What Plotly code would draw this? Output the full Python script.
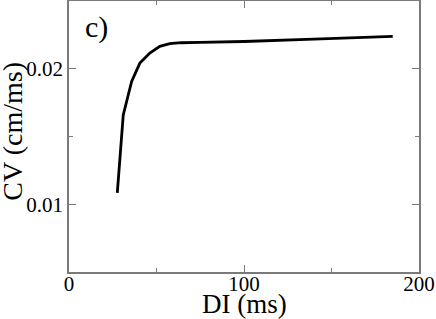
import plotly.graph_objects as go

di_ms = [27.6, 31.0, 35.8, 40.5, 46.2, 51.9, 57.6, 64.0, 74.7, 100.0, 140.0, 185.0]
cv_cm_per_ms = [0.01084, 0.01659, 0.01906, 0.02042, 0.02116, 0.02165, 0.02185, 0.02192, 0.02195, 0.02201, 0.02218, 0.02239]

x_ticks = [0, 100, 200]
y_ticks = [0.01, 0.02]
y_tick_labels = ["0.01", "0.02"]

FONT = "Liberation Serif, Times New Roman, serif"
AXIS_COLOR = "#7a7a7a"

fig = go.Figure()
fig.add_trace(go.Scatter(x=di_ms, y=cv_cm_per_ms, mode="lines",
                         line=dict(color="black", width=2.8), showlegend=False))

common = dict(showline=True, linecolor=AXIS_COLOR, linewidth=1.5, mirror="ticks",
              ticks="inside", ticklen=7, tickwidth=1, tickcolor=AXIS_COLOR,
              showgrid=False, zeroline=False, automargin=False,
              tickfont=dict(family=FONT, size=21, color="black"))

fig.update_xaxes(range=[0, 200], tickvals=x_ticks, ticklabelstandoff=-8,
                 minor=dict(dtick=50, ticks="inside", ticklen=4, tickcolor=AXIS_COLOR, showgrid=False),
                 **common)
fig.update_yaxes(range=[0.005, 0.025], tickvals=y_ticks, ticktext=y_tick_labels,
                 minor=dict(dtick=0.005, ticks="inside", ticklen=4, tickcolor=AXIS_COLOR, showgrid=False),
                 **common)

fig.add_annotation(x=8, y=0.0231, xref="x", yref="y", text="c)", showarrow=False,
                   xanchor="left", yanchor="middle",
                   font=dict(family=FONT, size=30, color="black"))
fig.add_annotation(x=0.5, y=-0.118, xref="paper", yref="paper", text="DI (ms)", showarrow=False,
                   xanchor="center", yanchor="middle",
                   font=dict(family=FONT, size=27, color="black"))
fig.add_annotation(x=-0.164, y=0.52, xref="paper", yref="paper", text="CV (cm/ms)", showarrow=False,
                   textangle=-90, xanchor="center", yanchor="middle",
                   font=dict(family=FONT, size=28, color="black"))

fig.update_layout(width=436, height=319, margin=dict(l=69, r=17, t=1, b=47),
                  paper_bgcolor="white", plot_bgcolor="white")

fig.write_html("out.html", config={"displayModeBar": False},
               post_script="document.body.style.margin='0';document.body.style.overflow='hidden';")
